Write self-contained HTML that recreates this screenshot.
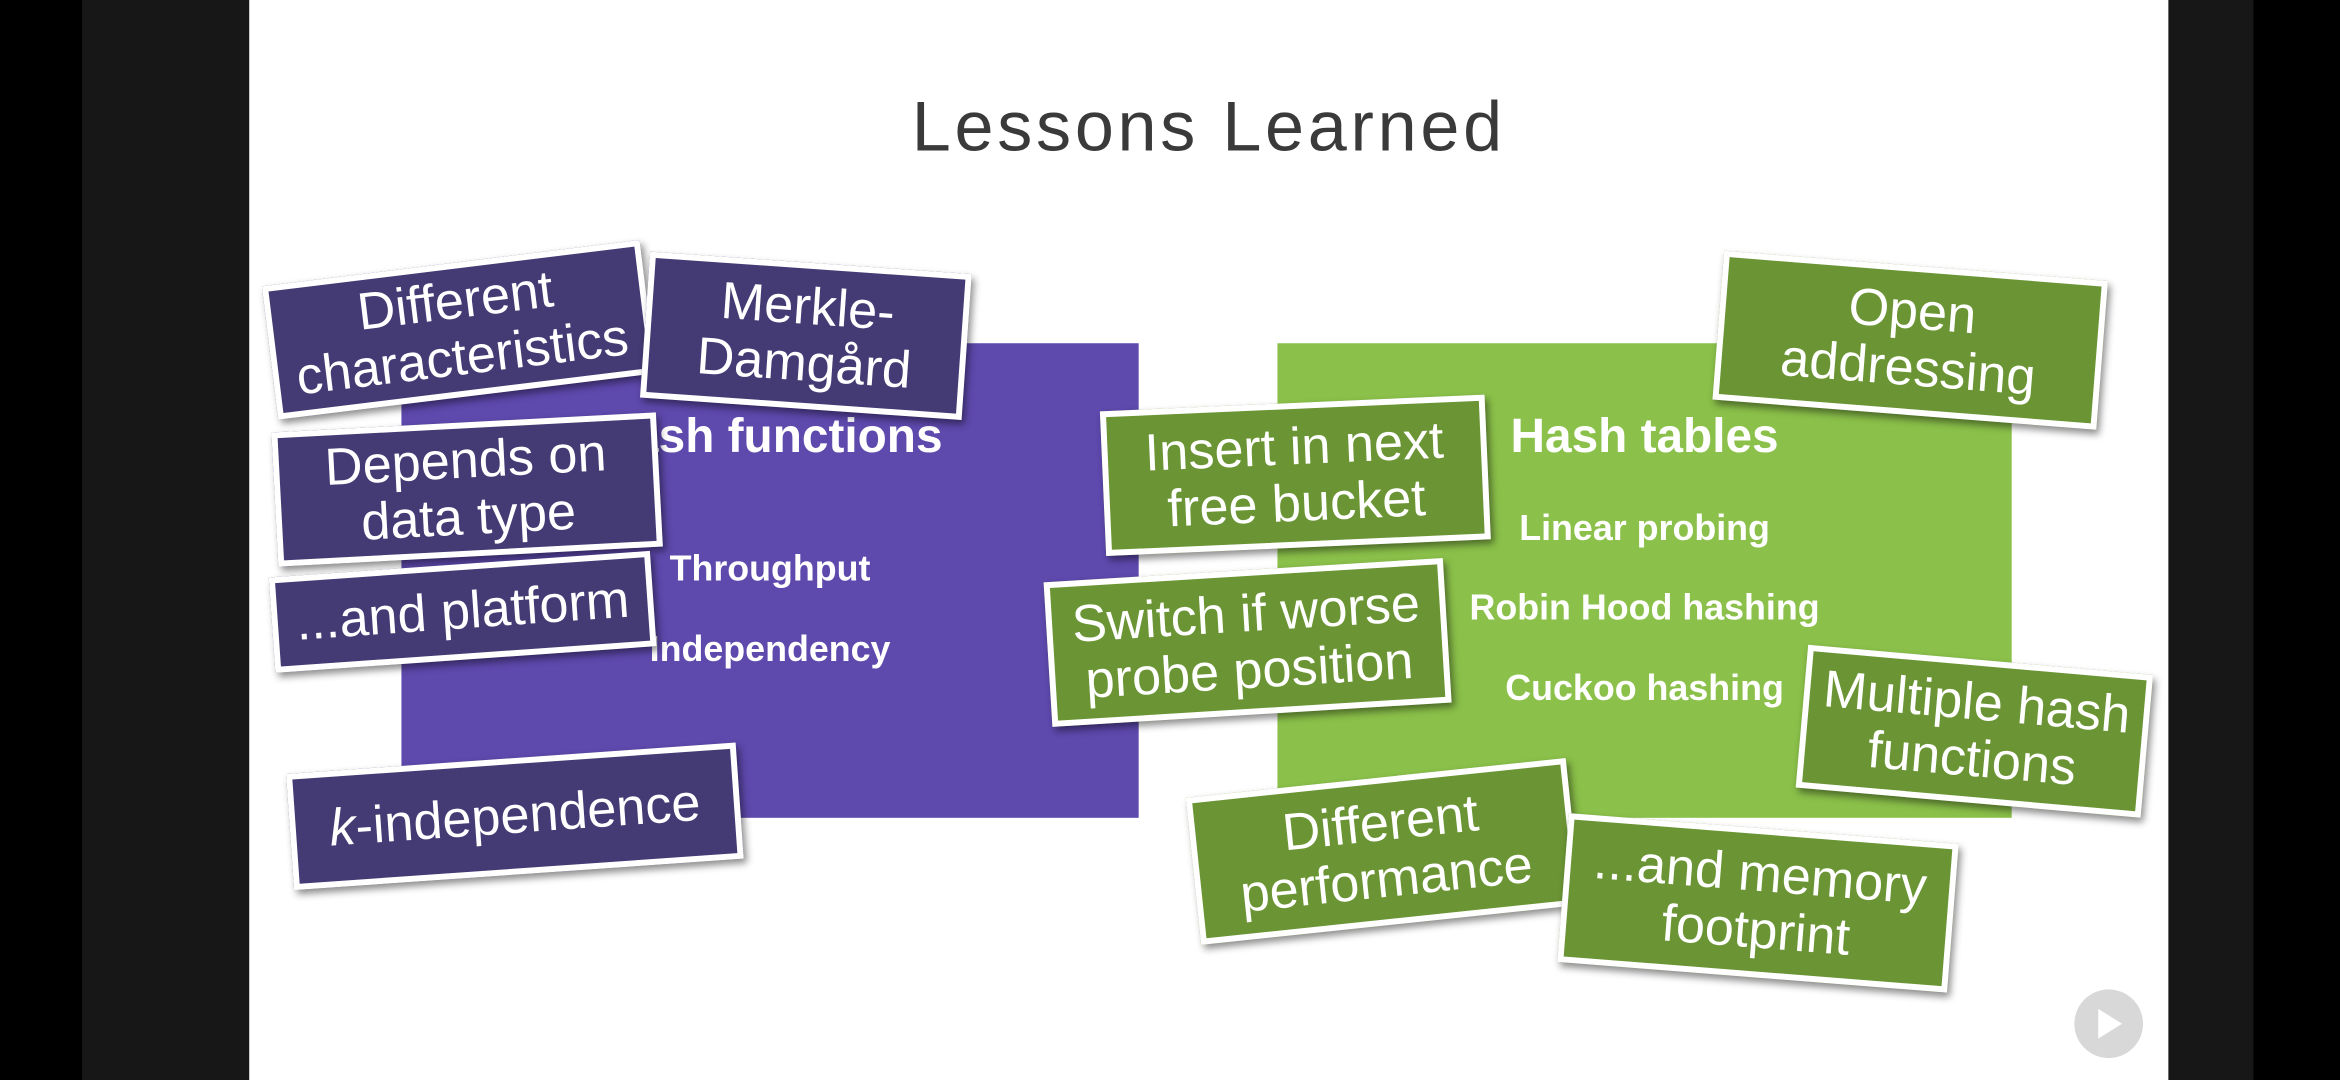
<!DOCTYPE html>
<html><head><meta charset="utf-8"><style>
html,body{margin:0;padding:0;width:2340px;height:1080px;overflow:hidden;background:#000}
#s{position:absolute;left:0;top:0;width:1568px;height:724px;transform:scale(1.49235);transform-origin:0 0;background:#000;font-family:"Liberation Sans",sans-serif}
.abs{position:absolute}
.card{position:absolute;box-sizing:border-box;border:4px solid #fff;color:#fff;display:flex;align-items:center;justify-content:center;text-align:center;font-size:35px;line-height:38px;white-space:nowrap;box-shadow:2px 3px 5px rgba(0,0,0,.45)}
.p{background:#443a74}
.g{background:#6b9535}
.bt{position:absolute;color:#fff;font-weight:bold;text-align:center;white-space:nowrap}
</style></head><body><div id="s">
<div class="abs" style="left:55px;top:0;width:112px;height:724px;background:#171717"></div>
<div class="abs" style="left:1453px;top:0;width:57px;height:724px;background:#171717"></div>
<div class="abs" style="left:167px;top:0;width:1286px;height:724px;background:#fff"></div>
<div class="abs" style="left:410px;top:57px;width:800px;text-align:center;font-size:47px;color:#3a3a3a;letter-spacing:2.5px">Lessons Learned</div>

<div class="abs" style="left:269px;top:230px;width:494px;height:318px;background:#5e49ad"></div>
<div class="abs" style="left:856px;top:230px;width:492px;height:318px;background:#8bc14a"></div>

<div class="bt" style="left:316px;width:400px;top:274px;font-size:32px">Hash functions</div>
<div class="bt" style="left:316px;width:400px;top:368px;font-size:24px">Throughput</div>
<div class="bt" style="left:316px;width:400px;top:422px;font-size:24px">Independency</div>
<div class="bt" style="left:902px;width:400px;top:274px;font-size:32px">Hash tables</div>
<div class="bt" style="left:902px;width:400px;top:341px;font-size:24px">Linear probing</div>
<div class="bt" style="left:902px;width:400px;top:394px;font-size:24px">Robin Hood hashing</div>
<div class="bt" style="left:902px;width:400px;top:448px;font-size:24px">Cuckoo hashing</div>

<div class="card p" style="left:180px;top:176px;width:255px;height:90px;transform:rotate(-7deg)">Different<br>characteristics</div>
<div class="card p" style="left:432px;top:176px;width:216px;height:98px;transform:rotate(4deg)">Merkle-<br>Damgård</div>
<div class="card p" style="left:184px;top:283px;width:258px;height:90px;transform:rotate(-3deg)">Depends on<br>data type</div>
<div class="card p" style="left:182px;top:378px;width:256px;height:64px;transform:rotate(-4deg)">...and platform</div>
<div class="card p" style="left:194px;top:508px;width:302px;height:78px;transform:rotate(-4deg)"><span><i>k</i>-independence</span></div>

<div class="card g" style="left:739px;top:270px;width:258px;height:97px;transform:rotate(-2.5deg)">Insert in next<br>free bucket</div>
<div class="card g" style="left:702px;top:382px;width:268px;height:97px;transform:rotate(-3.5deg)">Switch if worse<br>probe position</div>
<div class="card g" style="left:1151px;top:178px;width:258px;height:100px;transform:rotate(4.5deg)">Open<br>addressing</div>
<div class="card g" style="left:1207px;top:442px;width:232px;height:96px;transform:rotate(5deg)">Multiple hash<br>functions</div>
<div class="card g" style="left:799px;top:521px;width:256px;height:99px;transform:rotate(-6deg)">Different<br>performance</div>
<div class="card g" style="left:1047px;top:555px;width:262px;height:100px;transform:rotate(4.5deg)">...and memory<br>footprint</div>

<div class="abs" style="left:1390px;top:663px;width:46px;height:46px;border-radius:50%;background:#d8d8d8"></div>
<div class="abs" style="left:1406px;top:676px;width:0;height:0;border-left:16px solid #fff;border-top:10px solid transparent;border-bottom:10px solid transparent"></div>
</div></body></html>
